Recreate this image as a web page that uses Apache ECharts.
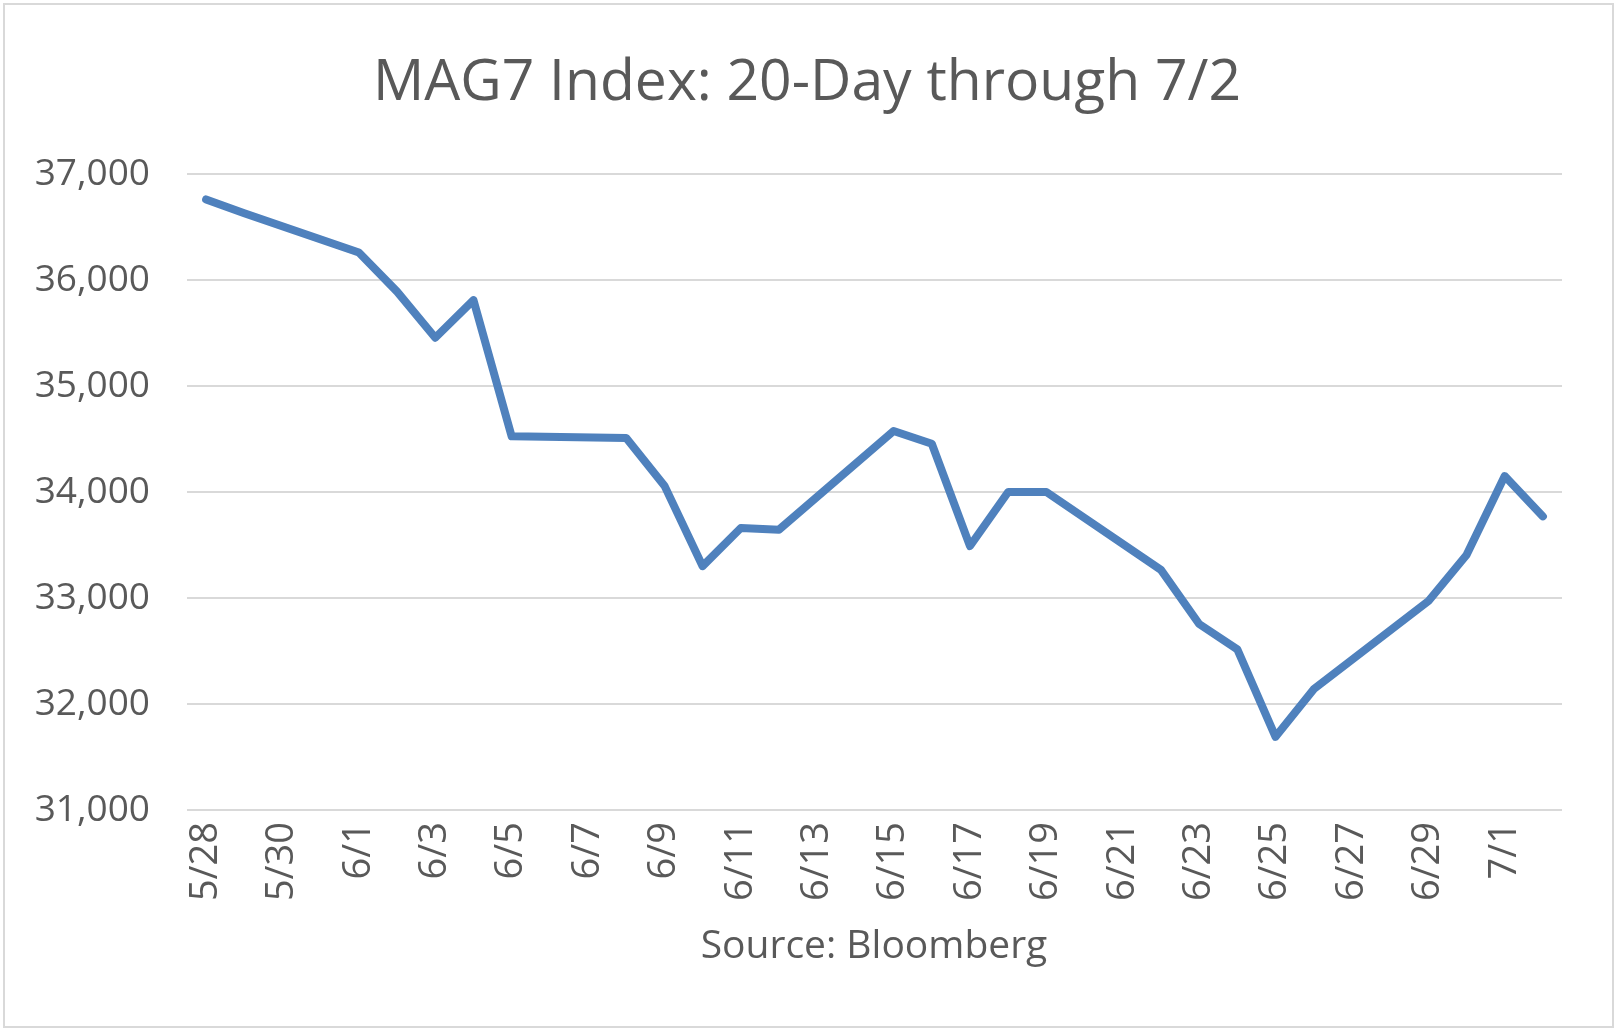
<!DOCTYPE html>
<html>
<head>
<meta charset="utf-8">
<script src="https://cdn.jsdelivr.net/npm/echarts@6/dist/echarts.min.js"></script>
<style>html,body{margin:0;padding:0;background:#fff;}#c{width:1622px;height:1035px;}</style>
</head>
<body>
<div id="c"></div>
<script>
const titleText = 'MAG7 Index: 20-Day through 7/2';
const sourceText = 'Source: Bloomberg';
const dates = ['5/28','5/29','5/30','5/31','6/1','6/2','6/3','6/4','6/5','6/6','6/7','6/8','6/9','6/10','6/11','6/12','6/13','6/14','6/15','6/16','6/17','6/18','6/19','6/20','6/21','6/22','6/23','6/24','6/25','6/26','6/27','6/28','6/29','6/30','7/1','7/2'];
const values = [36760,36630,null,null,36260,35890,35455,35810,34525,null,null,34510,34060,33300,33660,33645,null,null,34575,34455,33490,34000,34000,null,null,33265,32755,32515,31690,32140,null,null,32970,33405,34150,33770];
const yTicks = [31000,32000,33000,34000,35000,36000,37000];

const FONT = '"Open Sans", sans-serif';
const GRAY = '#595959';
const chart = echarts.init(document.getElementById('c'), null, {renderer:'canvas'});
chart.setOption({
  animation:false,
  backgroundColor:'#fff',
  graphic:[
    {type:'rect', shape:{x:4,y:4,width:1609,height:1023}, style:{fill:'none', stroke:'#D9D9D9', lineWidth:2}, z:-1},
    {type:'text', x:807, y:84, style:{text:titleText, font:'57px '+FONT, fill:GRAY, textAlign:'center', textVerticalAlign:'middle'}},
    {type:'text', x:874, y:947, style:{text:sourceText, font:'39px '+FONT, fill:GRAY, textAlign:'center', textVerticalAlign:'middle'}}
  ],
  grid:{left:187, right:60, top:174, bottom:225, containLabel:false},
  xAxis:{
    type:'category', data:dates, boundaryGap:true,
    axisLine:{show:false}, axisTick:{show:false},
    axisLabel:{interval:1, rotate:90, margin:12, color:GRAY, fontSize:38, fontFamily:FONT}
  },
  yAxis:{
    type:'value', min:yTicks[0], max:yTicks[yTicks.length-1], interval:1000,
    axisLine:{show:false}, axisTick:{show:false},
    splitLine:{show:true, lineStyle:{color:'#D9D9D9', width:2}},
    axisLabel:{margin:37, color:GRAY, fontSize:37, fontFamily:FONT, formatter:v=>v.toLocaleString('en-US')}
  },
  series:[{
    type:'line', data:values, connectNulls:true, showSymbol:false, symbol:'none',
    lineStyle:{color:'#4F81BD', width:8, cap:'round', join:'round'}
  }]
});
</script>
</body>
</html>
